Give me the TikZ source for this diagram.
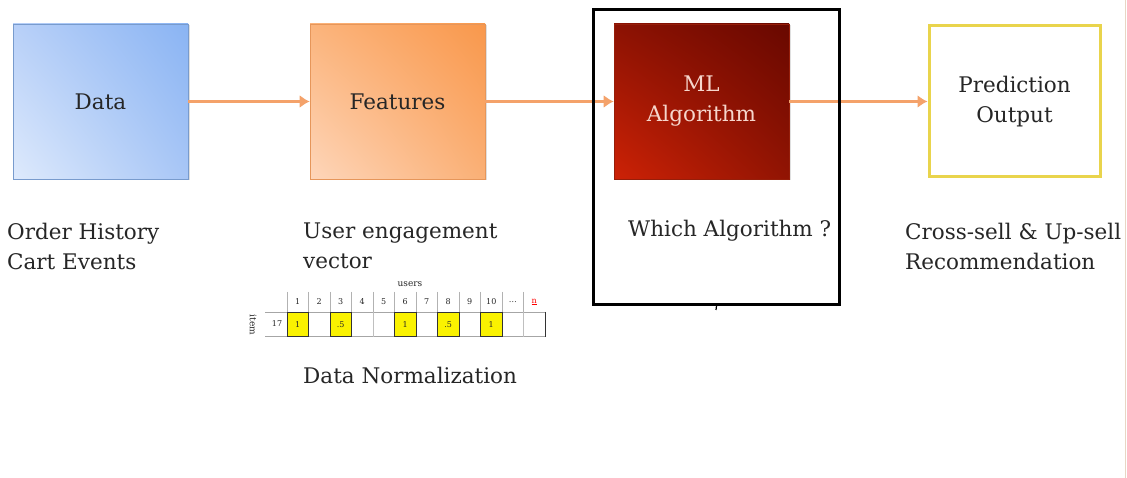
\documentclass[tikz,border=0pt]{standalone}
\usepackage{fontspec}
\setmainfont{DejaVu Serif}
\usetikzlibrary{arrows.meta,shadows,shadings}
\definecolor{txt}{HTML}{262626}
\definecolor{arr}{HTML}{F4A26A}
\definecolor{yel}{HTML}{E9D44C}
\definecolor{cellyel}{HTML}{FAF200}
\definecolor{bLL}{HTML}{DEEAFC}\definecolor{bUR}{HTML}{8AB4F3}\definecolor{bUL}{HTML}{B8D0F8}\definecolor{bLR}{HTML}{A8C6F6}\definecolor{bB}{HTML}{789BCD}
\definecolor{oLL}{HTML}{FED6BA}\definecolor{oUR}{HTML}{F9984C}\definecolor{oUL}{HTML}{FBB47C}\definecolor{oLR}{HTML}{FAB076}\definecolor{oB}{HTML}{E6965A}
\definecolor{rLL}{HTML}{CD2206}\definecolor{rUR}{HTML}{690800}\definecolor{rUL}{HTML}{8C1203}\definecolor{rLR}{HTML}{911403}\definecolor{rB}{HTML}{961E0A}
\definecolor{rT}{HTML}{F6D6CC}
\definecolor{edge}{HTML}{E8D6C4}
\newcommand\mydots{\ldots}
\tikzset{
  x=1pt,y=-1pt,
  bigfont/.style={font=\fontsize{21.5}{30}\selectfont},
  box/.style={minimum width=175pt,minimum height=155pt,inner sep=0pt,align=center,bigfont,
    drop shadow={opacity=0.25,shadow xshift=1.5pt,shadow yshift=-1.5pt}},
  lbl/.style={anchor=west,inner sep=0pt,align=left,bigfont,text=txt},
  flow/.style={draw=arr,line width=3pt,-{Latex[length=10pt,width=13pt]}},
  tiny/.style={font=\fontsize{8}{9}\selectfont,inner sep=0pt,text=txt}
}
\begin{document}
\begin{tikzpicture}
\useasboundingbox[fill=white] (0,0) rectangle (1127,478);
\draw[draw=edge,line width=0.8pt] (1125,0) -- (1125,478);

% boxes
\node[box,draw=bB,line width=0.6pt,
  lower left=bLL,upper right=bUR,upper left=bUL,lower right=bLR,
  text=txt] (data) at (100.5,101.5) {Data};
\node[box,draw=oB,line width=0.6pt,
  lower left=oLL,upper right=oUR,upper left=oUL,lower right=oLR,
  text=txt] (feat) at (397.5,101.5) {Features};
\node[box,draw=rB,line width=0.6pt,
  lower left=rLL,upper right=rUR,upper left=rUL,lower right=rLR,
  text=rT] (ml) at (701.5,101.5) {ML\\Algorithm};
\node[minimum width=171pt,minimum height=151pt,inner sep=0pt,align=center,bigfont,
  draw=yel,line width=3pt,fill=white,text=txt] (pred) at (1014.5,101.5) {Prediction\\Output};

% connectors
\draw[flow] (data.east) -- (feat.west);
\draw[flow] (feat.east) -- (ml.west);
\draw[flow] (ml.east) -- (pred.west);

% highlight frame
\node[draw=black,line width=2.6pt,minimum width=246pt,minimum height=295pt,inner sep=0pt] (frame) at (716.5,157) {};
\coordinate (tick) at (716,310);
\draw[line width=1.2pt] (frame.south) -- (tick);

% labels
\node[lbl] (l1) at (7,246) {Order History\\Cart Events};
\node[lbl] (l2) at (303,246) {User engagement\\vector};
\node[lbl] (l3) at (628,231) {Which Algorithm ?};
\node[lbl] (l4) at (905,246) {Cross-sell \& Up-sell\\Recommendation};
\node[lbl] (l5) at (303,375) {Data Normalization};

% table
\node[tiny,font=\fontsize{9}{10}\selectfont] (users) at (410,284) {users};
\node[tiny,font=\fontsize{9}{10}\selectfont,rotate=-90] (item) at (253,325) {item};
\node[tiny] (r17) at (277,324) {17};
\foreach \i/\h in {1/1,2/2,3/3,4/4,5/5,6/6,7/7,8/8,9/9,10/10,11/\mydots}{
  \pgfmathsetmacro\xl{287+21.5*(\i-1)}
  \draw[gray!60,line width=0.5pt] (\xl,292) -- (\xl,312);
  \node[tiny] (h\i) at (\xl+10.75,302) {\h};
}
\node[tiny,text=red] (h12) at (287+21.5*11+10.75,302) {\underline{n}};
\draw[gray!60,line width=0.5pt] (287+21.5*11,292) -- (287+21.5*11,312);
\draw[gray!70,line width=0.6pt] (265,312) -- (545,312);
\draw[gray!70,line width=0.6pt] (265,336.5) -- (545,336.5);
\draw[black!80,line width=0.8pt] (545,312) -- (545,336.5);
\foreach \i in {2,4,5,7,9,11,12}{
  \pgfmathsetmacro\xl{287+21.5*(\i-1)}
  \draw[gray!50,line width=0.4pt] (\xl,312) -- (\xl,336.5);
}
\foreach \i/\v in {1/1,3/.5,6/1,8/.5,10/1}{
  \pgfmathsetmacro\xl{287+21.5*(\i-1)}
  \draw[fill=cellyel,draw=black!80,line width=0.6pt] (\xl,312) rectangle (\xl+21.5,336.5);
  \node[tiny] (c\i) at (\xl+10.75,324.5) {\v};
}
\end{tikzpicture}
\end{document}
